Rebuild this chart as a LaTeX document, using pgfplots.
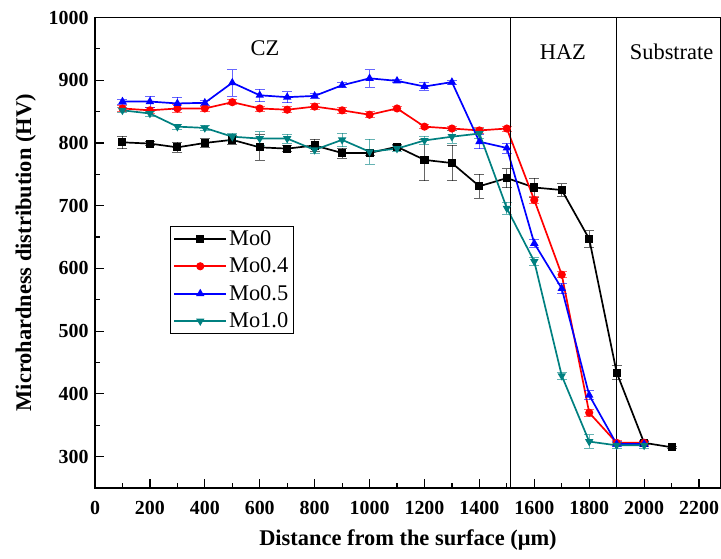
\documentclass[border=0pt]{standalone}
\usepackage{fontspec}
\setmainfont{Liberation Serif}
\usepackage{pgfplots}
\pgfplotsset{compat=1.18}

\definecolor{moteal}{RGB}{0,128,128}

\pgfplotstableread{
x y e
100 801 10
200 799 3
300 793 8
400 800 7
500 805 7
600 793 20
700 791 5
800 796 10
900 784 8
1000 784 4
1100 794 4
1200 773 33
1300 768 28
1400 731 19
1500 744 15
1600 729 15
1700 725 10
1800 647 13
1900 434 11
2000 322 3
2100 315 2
}\moZero

\pgfplotstableread{
x y e
100 855 5
200 852 5
300 855 7
400 855 4
500 865 4
600 855 4
700 853 5
800 858 5
900 852 5
1000 845 5
1100 855 3
1200 826 3
1300 823 3
1400 820 5
1500 823 4
1600 709 6
1700 590 5
1800 370 6
1900 322 4
2000 322 4
}\moFour

\pgfplotstableread{
x y e
100 866 4
200 866 9
300 863 10
400 864 4
500 896 21
600 876 10
700 873 9
800 875 4
900 892 4
1000 903 14
1100 899 3
1200 890 6
1300 897 3
1400 802 11
1500 792 8
1600 640 6
1700 568 8
1800 398 7
1900 320 4
2000 320 4
}\moFive

\pgfplotstableread{
x y e
100 852 4
200 847 4
300 826 4
400 824 4
500 810 6
600 807 11
700 807 7
800 789 5
900 805 11
1000 786 20
1100 791 5
1200 804 7
1300 810 10
1400 815 8
1500 696 10
1600 611 6
1700 429 6
1800 324 11
1900 318 5
2000 318 5
}\moTen

\begin{document}
\begin{tikzpicture}
\begin{axis}[
    scale only axis,
    width=626bp, height=470.5bp,
    xmin=0, xmax=2280,
    ymin=250, ymax=1000,
    xtick={0,200,...,2200},
    ytick={300,400,...,1000},
    minor x tick num=1,
    minor y tick num=1,
    xtick pos=left, ytick pos=left,
    tick align=inside,
    major tick length=9bp,
    minor tick length=5bp,
    every tick/.style={black, line width=1.2pt},
    axis line style={line width=1.6pt},
    /pgf/number format/assume math mode=true,
    /pgf/number format/1000 sep={},
    tick label style={font=\bfseries\fontsize{20}{20}\selectfont},
    xticklabel style={yshift=-10bp},
    yticklabel style={xshift=-3bp},
    xlabel={\bfseries Distance from the surface (μm)},
    ylabel={\bfseries Microhardness distribution (HV)},
    label style={font=\bfseries\fontsize{22.5}{22.5}\selectfont},
    xlabel style={yshift=-8bp},
    ylabel style={yshift=6bp},
    legend style={at={(0.12,0.556)}, anchor=north west,
        draw=black, line width=0.6pt, fill=white,
        font=\fontsize{22.5}{24}\selectfont,
        row sep=7bp,
        inner xsep=3bp, inner ysep=2bp},
    legend cell align=left,
    legend image code/.code={
        \draw[mark repeat=2, mark phase=2, #1]
        plot coordinates {(0bp,0bp) (26bp,0bp) (52bp,0bp)};},
    every axis plot/.append style={line width=1.7pt, mark size=3.2pt},
    error bars/y dir=both,
    error bars/y explicit,
    error bars/error mark options={rotate=90, mark size=5pt, line width=0.8pt},
    error bars/error bar style={line width=0.8pt, opacity=0.6},
]
\addplot[black, mark=square*] table[x=x, y=y, y error=e] {\moZero};
\addlegendentry{Mo0}
\addplot[red, mark=*] table[x=x, y=y, y error=e] {\moFour};
\addlegendentry{Mo0.4}
\addplot[blue, mark=triangle*] table[x=x, y=y, y error=e] {\moFive};
\addlegendentry{Mo0.5}
\addplot[moteal, mark=triangle*, mark options={rotate=180}] table[x=x, y=y, y error=e] {\moTen};
\addlegendentry{Mo1.0}

\draw[black, line width=1pt] (axis cs:1515,250) -- (axis cs:1515,1000);
\draw[black, line width=1.4pt] (axis cs:1900,250) -- (axis cs:1900,1000);

\node[font=\fontsize{22.5}{22.5}\selectfont] at (axis cs:619,951) {CZ};
\node[font=\fontsize{22.5}{22.5}\selectfont] at (axis cs:1704,945) {HAZ};
\node[font=\fontsize{22.5}{22.5}\selectfont] at (axis cs:2100,945) {Substrate};

\coordinate (sw) at (rel axis cs:0,0);
\end{axis}
\pgfresetboundingbox
\path (sw) ++(-95bp,-71bp) rectangle ++(721bp,559bp);
\end{tikzpicture}
\end{document}
